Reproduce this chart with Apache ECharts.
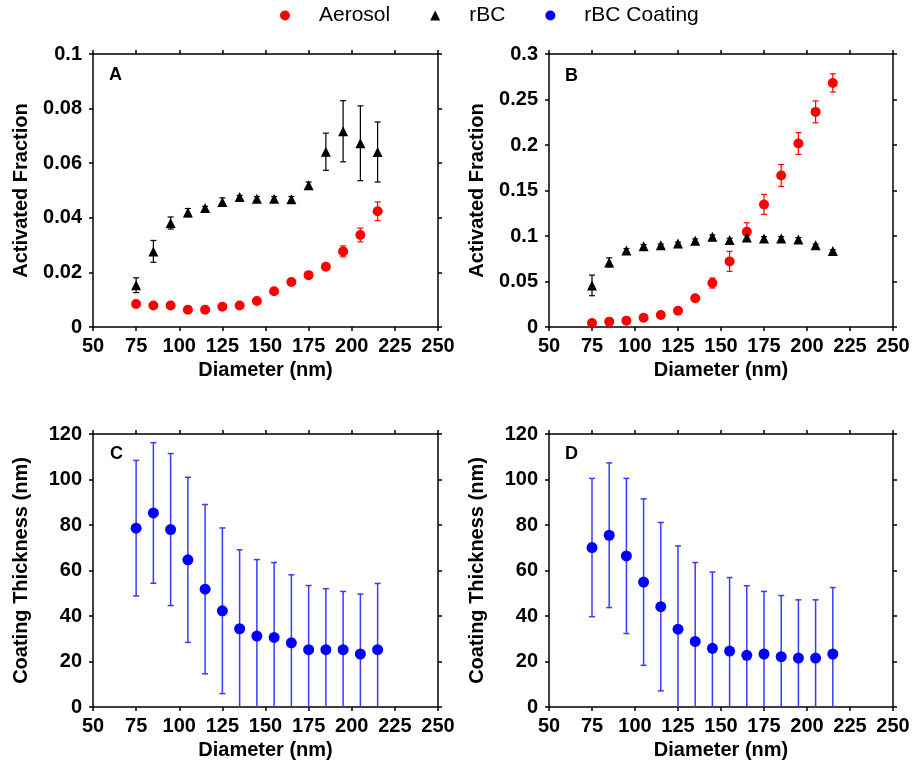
<!DOCTYPE html>
<html>
<head>
<meta charset="utf-8">
<script src="https://cdn.jsdelivr.net/npm/echarts@6/dist/echarts.min.js"></script>
<style>html,body{margin:0;padding:0;background:#fff}#c{width:914px;height:767px}</style>
</head>
<body>
<div id="c"></div>
<script>
// ---- data ----
const diameters = [75, 85, 95, 105, 115, 125, 135, 145, 155, 165, 175, 185, 195, 205, 215];
const xTicks = [50, 75, 100, 125, 150, 175, 200, 225, 250];

const aerosolA    = [0.0084, 0.0079, 0.0079, 0.0063, 0.0063, 0.0074, 0.0079, 0.0095, 0.0131, 0.0165, 0.0190, 0.0221, 0.0277, 0.0337, 0.0424];
const aerosolAErr = [0.0006, 0.0005, 0.0005, 0.0005, 0.0005, 0.0006, 0.0006, 0.0007, 0.0008, 0.0008, 0.0009, 0.0010, 0.0020, 0.0025, 0.0034];
const rbcA        = [0.0153, 0.0277, 0.0381, 0.0419, 0.0436, 0.0458, 0.0476, 0.0470, 0.0470, 0.0468, 0.0519, 0.0642, 0.0717, 0.0673, 0.0641];
const rbcAErr     = [0.0027, 0.0040, 0.0022, 0.0015, 0.0006, 0.0015, 0.0006, 0.0008, 0.0008, 0.0010, 0.0012, 0.0068, 0.0112, 0.0137, 0.0110];

const aerosolB    = [0.0044, 0.0059, 0.0070, 0.0102, 0.0132, 0.0179, 0.0315, 0.0483, 0.0721, 0.1046, 0.1347, 0.1665, 0.2016, 0.2364, 0.2682];
const aerosolBErr = [0.0015, 0.0015, 0.0015, 0.0015, 0.0015, 0.0020, 0.0030, 0.0055, 0.0110, 0.0099, 0.0110, 0.0120, 0.0120, 0.0120, 0.0100];
const rbcB        = [0.0457, 0.0710, 0.0842, 0.0886, 0.0897, 0.0918, 0.0948, 0.0992, 0.0955, 0.0984, 0.0973, 0.0973, 0.0962, 0.0897, 0.0834];
const rbcBErr     = [0.0113, 0.0050, 0.0020, 0.0020, 0.0015, 0.0015, 0.0020, 0.0020, 0.0020, 0.0020, 0.0020, 0.0020, 0.0020, 0.0015, 0.0015];

const coatC    = [78.6, 85.3, 78.0, 64.7, 51.8, 42.3, 34.4, 31.2, 30.6, 28.2, 25.2, 25.2, 25.2, 23.3, 25.2];
const coatCErr = [29.8, 30.9, 33.4, 36.3, 37.2, 36.4, 34.7, 33.6, 32.9, 29.9, 28.2, 26.8, 25.6, 26.3, 29.1];
const coatD    = [70.1, 75.5, 66.4, 54.9, 44.1, 34.2, 28.8, 25.8, 24.6, 22.7, 23.3, 22.1, 21.5, 21.5, 23.3];
const coatDErr = [30.4, 31.8, 34.1, 36.6, 37.0, 36.6, 34.7, 33.5, 32.3, 30.6, 27.5, 26.9, 25.6, 25.6, 29.2];

const panelLabels = ['A', 'B', 'C', 'D'];
const legendNames = ['Aerosol', 'rBC', 'rBC Coating'];

// ---- style ----
const FONT = '"Liberation Sans", Arial, sans-serif';
const RED = '#ff0000', BLACK = '#000000', BLUE = '#0000ff', BLUE_BAR = '#3b3bff';

const grids = [
  { left: 93,  top: 54,  width: 345, height: 273 },
  { left: 549, top: 54,  width: 344, height: 273 },
  { left: 93,  top: 434, width: 345, height: 273 },
  { left: 549, top: 434, width: 344, height: 273 }
];
const yRanges = [
  { max: 0.1, interval: 0.02, name: 'Activated Fraction' },
  { max: 0.3, interval: 0.05, name: 'Activated Fraction' },
  { max: 120, interval: 20, name: 'Coating Thickness (nm)' },
  { max: 120, interval: 20, name: 'Coating Thickness (nm)' }
];

const axisLine = { show: true, onZero: false, lineStyle: { color: '#000', width: 1.5 } };
const tickOut = { show: true, inside: false, length: 4, lineStyle: { color: '#000', width: 1.5 } };
const labelStyle = { fontFamily: FONT, fontSize: 20, fontWeight: 'bold', color: '#000' };

const xAxes = [], yAxes = [];
grids.forEach((g, i) => {
  xAxes.push({
    type: 'value', gridIndex: i, min: xTicks[0], max: xTicks[xTicks.length - 1], interval: 25,
    position: 'bottom', axisLine, axisTick: tickOut, splitLine: { show: false },
    axisLabel: Object.assign({ margin: 9 }, labelStyle),
    name: 'Diameter (nm)', nameLocation: 'middle', nameGap: 33,
    nameTextStyle: { fontFamily: FONT, fontSize: 20, fontWeight: 'bold', color: '#000' }
  });
  xAxes.push({
    type: 'value', gridIndex: i, min: xTicks[0], max: xTicks[xTicks.length - 1], interval: 25,
    position: 'top', axisLine, axisTick: tickOut, splitLine: { show: false }, axisLabel: { show: false }
  });
  const yr = yRanges[i];
  yAxes.push({
    type: 'value', gridIndex: i, min: 0, max: yr.max, interval: yr.interval,
    position: 'left', axisLine, axisTick: tickOut, splitLine: { show: false },
    axisLabel: Object.assign({ margin: 11 }, labelStyle),
    name: yr.name, nameLocation: 'middle', nameGap: 62,
    nameTextStyle: { fontFamily: FONT, fontSize: 20, fontWeight: 'bold', color: '#000' }
  });
  yAxes.push({
    type: 'value', gridIndex: i, min: 0, max: yr.max, interval: yr.interval,
    position: 'right', axisLine, axisTick: tickOut, splitLine: { show: false }, axisLabel: { show: false }
  });
});

function zipData(xs, ys, es) { return xs.map((x, k) => [x, ys[k], es[k]]); }

function errSeries(name, gi, xs, ys, es, color, lw, cap) {
  return {
    type: 'custom', name: name, xAxisIndex: gi * 2, yAxisIndex: gi * 2, z: 1, clip: true, silent: true,
    data: zipData(xs, ys, es),
    renderItem: function (params, api) {
      const x = api.value(0), y = api.value(1), e = api.value(2);
      const lo = Math.max(y - e, 0);
      const pTop = api.coord([x, y + e]);
      const pBot = api.coord([x, lo]);
      const hw = cap / 2;
      const st = { stroke: color, lineWidth: lw };
      const children = [
        { type: 'line', shape: { x1: pTop[0], y1: pTop[1], x2: pBot[0], y2: pBot[1] }, style: st },
        { type: 'line', shape: { x1: pTop[0] - hw, y1: pTop[1], x2: pTop[0] + hw, y2: pTop[1] }, style: st }
      ];
      if (y - e >= 0) {
        children.push({ type: 'line', shape: { x1: pBot[0] - hw, y1: pBot[1], x2: pBot[0] + hw, y2: pBot[1] }, style: st });
      }
      return { type: 'group', children: children };
    }
  };
}

function markSeries(name, gi, xs, ys, symbol, size, color) {
  return {
    type: 'scatter', name: name, xAxisIndex: gi * 2, yAxisIndex: gi * 2, z: 3,
    symbol: symbol, symbolSize: size, itemStyle: { color: color, opacity: 1 },
    data: xs.map((x, k) => [x, ys[k]])
  };
}

const series = [
  errSeries('Aerosol err A', 0, diameters, aerosolA, aerosolAErr, RED, 1.2, 6),
  errSeries('rBC err A', 0, diameters, rbcA, rbcAErr, BLACK, 1.2, 6),
  markSeries('Aerosol', 0, diameters, aerosolA, 'circle', 10, RED),
  markSeries('rBC', 0, diameters, rbcA, 'triangle', 10, BLACK),

  errSeries('Aerosol err B', 1, diameters, aerosolB, aerosolBErr, RED, 1.2, 6),
  errSeries('rBC err B', 1, diameters, rbcB, rbcBErr, BLACK, 1.2, 6),
  markSeries('Aerosol', 1, diameters, aerosolB, 'circle', 10, RED),
  markSeries('rBC', 1, diameters, rbcB, 'triangle', 10, BLACK),

  errSeries('Coat err C', 2, diameters, coatC, coatCErr, BLUE_BAR, 1.5, 6),
  markSeries('rBC Coating', 2, diameters, coatC, 'circle', 11, BLUE),

  errSeries('Coat err D', 3, diameters, coatD, coatDErr, BLUE_BAR, 1.5, 6),
  markSeries('rBC Coating', 3, diameters, coatD, 'circle', 11, BLUE)
];

const titlePos = [
  { left: 109, top: 66 }, { left: 565, top: 67 }, { left: 110, top: 445 }, { left: 565, top: 445 }
];

const option = {
  animation: false,
  backgroundColor: '#fff',
  title: panelLabels.map((t, i) => ({
    text: t, left: titlePos[i].left, top: titlePos[i].top, padding: 0,
    textStyle: { fontFamily: FONT, fontSize: 18, fontWeight: 'bold', color: '#000' }
  })),
  legend: {
    data: legendNames.map(n => ({ name: n })),
    left: 275, top: 0, itemWidth: 10, itemHeight: 10, itemGap: 40,
    selectedMode: false,
    textStyle: { fontFamily: FONT, fontSize: 21, color: '#000', padding: [0, 0, 0, 24] }
  },
  grid: grids,
  xAxis: xAxes,
  yAxis: yAxes,
  series: series
};

const chart = echarts.init(document.getElementById('c'), null, { renderer: 'canvas' });
chart.setOption(option);
</script>
</body>
</html>
